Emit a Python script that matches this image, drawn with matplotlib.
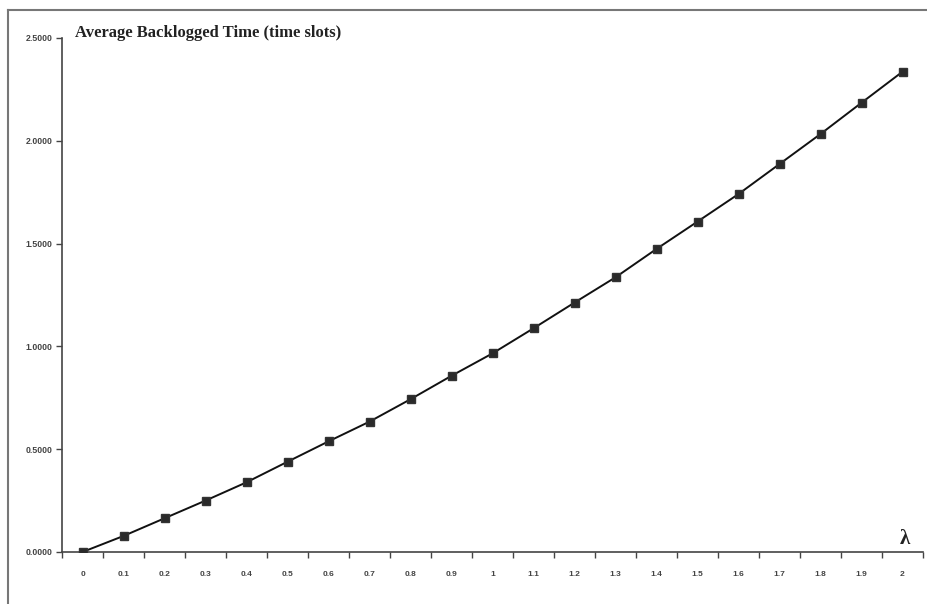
import matplotlib
matplotlib.use("Agg")
import matplotlib.pyplot as plt
from matplotlib.lines import Line2D
import numpy as np

# arrival rate lambda and average backlogged time (time slots)
lam_labels = ["0", "0.1", "0.2", "0.3", "0.4", "0.5", "0.6", "0.7", "0.8", "0.9", "1",
              "1.1", "1.2", "1.3", "1.4", "1.5", "1.6", "1.7", "1.8", "1.9", "2"]
backlog_time = [0.000, 0.078, 0.164, 0.250, 0.339, 0.439, 0.538, 0.634, 0.743, 0.857, 0.966,
                1.088, 1.213, 1.336, 1.474, 1.607, 1.741, 1.887, 2.033, 2.185, 2.336]
y_ticks = [0.0, 0.5, 1.0, 1.5, 2.0, 2.5]

fig = plt.figure(figsize=(9.27, 6.04), dpi=100)
ax = fig.add_axes([0.0669, 0.0861, 0.9288, 0.851])

pos = np.arange(len(lam_labels))
ax.plot(pos, backlog_time, color="#111111", linewidth=1.4, marker="s",
        markersize=6, markerfacecolor="#2a2a2a", markeredgecolor="#333333", zorder=3)

ax.set_xlim(-0.5, len(lam_labels) - 0.5)
ax.set_ylim(0, 2.5)

# category axis: ticks sit between the categories, labels under the points
ax.set_xticks(np.arange(len(lam_labels) + 1) - 0.5)
ax.set_xticklabels([])
ax.set_xticks(pos, minor=True)
ax.set_xticklabels(lam_labels, minor=True)
ax.tick_params(axis="x", which="major", direction="out", length=4, width=1, color="#444444")
ax.tick_params(axis="x", which="minor", length=0, pad=14, labelsize=6, labelcolor="#444444")

ax.set_yticks(y_ticks)
ax.set_yticklabels([f"{v:.4f}" for v in y_ticks])
ax.tick_params(axis="y", direction="out", length=4, width=1, color="#444444",
               pad=3, labelsize=6.3, labelcolor="#444444")
for lbl in ax.get_xticklabels(minor=True) + ax.get_yticklabels():
    lbl.set_family("Liberation Sans")
    lbl.set_fontweight("bold")

for side in ["top", "right"]:
    ax.spines[side].set_visible(False)
for side in ["left", "bottom"]:
    ax.spines[side].set_color("#444444")
    ax.spines[side].set_linewidth(1.2)

fig.text(0.081, 0.945, "Average Backlogged Time (time slots)", family="Liberation Serif",
         fontweight="bold", fontsize=12, color="#222222", va="center", ha="left")
fig.text(0.976, 0.108, "λ", family="Liberation Serif", fontsize=15, fontweight="bold",
         color="#222222", ha="center", va="center")

# frame edges of the surrounding box
fig.add_artist(Line2D([0.0086, 0.0086], [0.0, 0.984], transform=fig.transFigure,
                      color="#777777", linewidth=1.5))
fig.add_artist(Line2D([0.0086, 1.0], [0.984, 0.984], transform=fig.transFigure,
                      color="#777777", linewidth=1.5))

fig.savefig("out.png", dpi=100, facecolor="white")
